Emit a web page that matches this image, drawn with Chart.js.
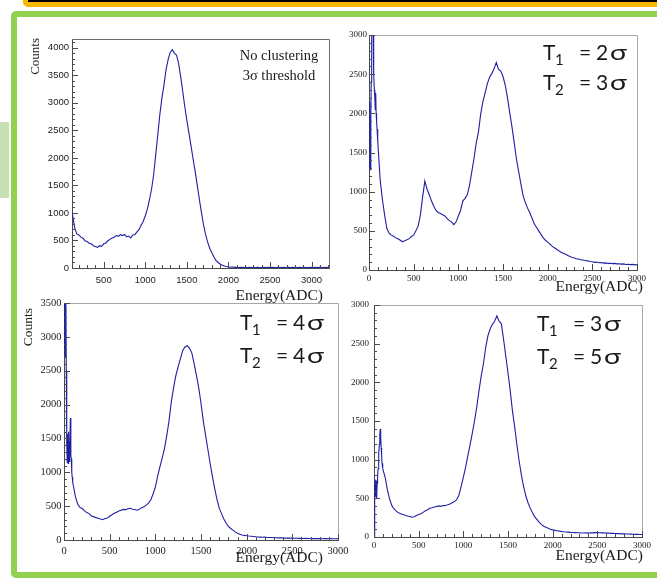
<!DOCTYPE html>
<html>
<head>
<meta charset="utf-8">
<title>Energy spectra vs clustering thresholds</title>
<script src="https://cdn.jsdelivr.net/npm/chart.js@4.4.1/dist/chart.umd.min.js"></script>
<style>
  html, body { margin: 0; padding: 0; background: #fff; }
  body { width: 657px; height: 578px; position: relative; overflow: hidden; }
  .topbar { position: absolute; left: 23px; top: -31px; width: 660px; height: 28px;
            background: #000; border: 5px solid #f9b800; border-radius: 5px; }
  .frame  { position: absolute; left: 11px; top: 11px; width: 680px; height: 555px;
            border: 6.5px solid #92d050; border-radius: 5px; }
  .tab    { position: absolute; left: 0; top: 122px; width: 9px; height: 76px; background: #c6e0b4; }
  canvas  { position: absolute; }
</style>
</head>
<body>
<div class="topbar"></div>
<div class="frame"></div>
<div class="tab"></div>
<canvas id="noCluster"></canvas>
<canvas id="t2t3"></canvas>
<canvas id="t4t4"></canvas>
<canvas id="t3t5"></canvas>
<script>
// ---------------------------------------------------------------
// Spectra (counts per bin). Bins below 100 ADC are 5 wide, the rest 25.
// ---------------------------------------------------------------
const lowEnergy = [0, 5, 10, 15, 20, 25, 30, 35, 40, 45, 50, 55, 60, 65, 70, 75, 80, 85, 90, 95];
const energy = [
  100, 125, 150, 175, 200, 225, 250, 275,
  300, 325, 350, 375, 400, 425, 450, 475,
  500, 525, 550, 575, 600, 625, 650, 675,
  700, 725, 750, 775, 800, 825, 850, 875,
  900, 925, 950, 975, 1000, 1025, 1050, 1075,
  1100, 1125, 1150, 1175, 1200, 1225, 1250, 1275,
  1300, 1325, 1350, 1375, 1400, 1425, 1450, 1475,
  1500, 1525, 1550, 1575, 1600, 1625, 1650, 1675,
  1700, 1725, 1750, 1775, 1800, 1825, 1850, 1875,
  1900, 1925, 1950, 1975, 2000, 2025, 2050, 2075,
  2100, 2125, 2150, 2175, 2200, 2225, 2250, 2275,
  2300, 2325, 2350, 2375, 2400, 2425, 2450, 2475,
  2500, 2525, 2550, 2575, 2600, 2625, 2650, 2675,
  2700, 2725, 2750, 2775, 2800, 2825, 2850, 2875,
  2900, 2925, 2950, 2975, 3000, 3025, 3050, 3075,
  3100, 3125, 3150, 3175, 3200
];

// no clustering, 3 sigma threshold (no bins below 100)
const noClusterCounts = [
  1080, 960, 730, 620, 600, 560, 540, 495,
  480, 450, 440, 405, 390, 375, 405, 395,
  440, 455, 495, 520, 545, 560, 590, 575,
  605, 590, 610, 565, 580, 545, 600, 610,
  655, 700, 775, 850, 950, 1075, 1240, 1430,
  1690, 2050, 2420, 2790, 3090, 3330, 3610, 3790,
  3920, 3965, 3900, 3870, 3720, 3480, 3210, 2930,
  2680, 2450, 2220, 1980, 1750, 1500, 1250, 1010,
  790, 610, 470, 360, 275, 200, 140, 100,
  72, 50, 38, 26, 20, 15, 18, 12,
  14, 10, 13, 9, 12, 10, 14, 9,
  11, 8, 12, 10, 9, 13, 8, 11,
  9, 12, 8, 10, 13, 9, 11, 8,
  10, 12, 9, 11, 8, 10, 12, 9,
  11, 8, 10, 9, 11, 10, 12, 9,
  11, 8, 10, 12, 9
];

// T1 = 2 sigma, T2 = 3 sigma
const t2t3Low = [1300, 2150, 1500, 1280, 1900, 2400, 2900, 3400, 3600, 3300,
                 3100, 2500, 2300, 2200, 2050, 2260, 2000, 1900, 1800, 1720];
const t2t3Counts = [
  1650, 1150, 900, 700, 530, 470, 445, 430,
  410, 398, 380, 360, 372, 385, 400, 428,
  445, 500, 560, 700, 930, 1135, 1030, 960,
  880, 815, 760, 735, 720, 705, 690, 655,
  630, 612, 580, 615, 690, 760, 880, 915,
  960, 1080, 1250, 1420, 1620, 1760, 1990, 2150,
  2260, 2380, 2460, 2510, 2570, 2650, 2560, 2540,
  2470, 2360, 2200, 2010, 1830, 1630, 1420, 1260,
  1100, 950, 860, 790, 730, 660, 590, 545,
  500, 455, 410, 380, 355, 330, 305, 285,
  265, 245, 228, 215, 200, 185, 172, 160,
  152, 140, 141, 128, 127, 118, 117, 108,
  106, 98, 101, 93, 95, 88, 91, 84,
  87, 81, 85, 78, 80, 75, 78, 71,
  74, 69, 72, 66, 68, 63, 66, 62,
  64, 60, 62, 58, 60
];

// T1 = 4 sigma, T2 = 4 sigma
const t4t4Low = [3600, 2750, 3600, 2700, 3600, 2500, 1400, 1150, 1560, 1130,
                 1600, 1160, 1450, 1300, 1800, 1250, 1200, 1000, 930, 860];
const t4t4Counts = [
  820, 640, 530, 480, 465, 430, 405, 390,
  355, 345, 330, 322, 310, 300, 318, 326,
  350, 372, 395, 410, 428, 440, 452, 448,
  462, 468, 455, 450, 440, 455, 478, 490,
  515, 545, 590, 680, 780, 940, 1080, 1210,
  1350, 1540, 1760, 2040, 2250, 2430, 2560, 2680,
  2800, 2850, 2870, 2830, 2760, 2600, 2430, 2250,
  2020, 1760, 1550, 1340, 1130, 940, 760, 600,
  470, 390, 310, 250, 200, 170, 145, 120,
  100, 85, 75, 68, 62, 58, 55, 52,
  48, 45, 43, 40, 42, 38, 36, 37,
  34, 33, 31, 32, 30, 28, 29, 27,
  27, 25, 26, 24, 25, 23, 24, 22,
  23, 21, 22, 20, 21, 19, 20, 21,
  19, 20, 18, 19, 20, 18, 19, 18,
  19, 18, 17, 18, 17
];

// T1 = 3 sigma, T2 = 5 sigma
const t3t5Low = [0, 380, 700, 720, 520, 730, 500, 690, 760, 880,
                 960, 1080, 1200, 1320, 1400, 1300, 1150, 1060, 950, 910];
const t3t5Counts = [
  885, 770, 610, 490, 405, 362, 335, 312,
  300, 292, 280, 272, 265, 256, 262, 278,
  290, 302, 318, 340, 352, 372, 378, 388,
  395, 402, 396, 406, 408, 416, 426, 442,
  458, 482, 540, 650, 770, 900, 1050, 1190,
  1340, 1500, 1680, 1890, 2080, 2240, 2450, 2600,
  2690, 2750, 2790, 2860, 2790, 2760, 2560, 2340,
  2120, 1890, 1630, 1420, 1190, 980, 800, 650,
  530, 440, 370, 310, 260, 225, 190, 160,
  140, 125, 112, 100, 92, 86, 80, 76,
  72, 68, 65, 63, 60, 58, 57, 55,
  54, 51, 52, 53, 50, 55, 53, 57,
  57, 54, 53, 55, 50, 51, 47, 48,
  46, 44, 45, 41, 42, 39, 38, 37,
  36, 34, 35, 32, 32, 30, 31, 30,
  29, 29, 28, 28, 27
];

// labelled axis values
const energyTicks = [0, 500, 1000, 1500, 2000, 2500, 3000];
const countTicks4000 = [0, 500, 1000, 1500, 2000, 2500, 3000, 3500, 4000];
const countTicks3500 = [0, 500, 1000, 1500, 2000, 2500, 3000, 3500];
const countTicks3000 = [0, 500, 1000, 1500, 2000, 2500, 3000];

// thresholds printed in the corner of each clustered spectrum
const t2t3Thresholds = ['2', '3'];
const t4t4Thresholds = ['4', '4'];
const t3t5Thresholds = ['3', '5'];

const LINE_COLOR = '#1f1fa3';
const AXIS_COLOR = '#4a4a4a';
const SERIF = "'Liberation Serif', 'Times New Roman', serif";
const NARROW = "'Liberation Sans Narrow', 'Liberation Sans', Arial, sans-serif";
const T_FONT = "Lato, 'Noto Sans', sans-serif";

function toPoints(xs, ys) {
  return xs.map((e, i) => ({ x: e, y: ys[i] }));
}

// "T1 = 2σ" style label, subscript drawn by hand
function drawThreshold(ctx, sub, value, left, base) {
  ctx.textAlign = 'left';
  ctx.textBaseline = 'alphabetic';
  ctx.font = '21px ' + T_FONT;
  ctx.fillText('T', left, base);
  ctx.font = '15px ' + T_FONT;
  ctx.fillText(sub, left + 12, base + 5);
  ctx.font = '21px ' + T_FONT;
  ctx.fillText('=', left + 36, base);
  ctx.fillText(value, left + 53, base);
  ctx.save();
  ctx.translate(left + 67, base);
  ctx.scale(1.35, 1);
  ctx.fillText('σ', 0, 0);
  ctx.restore();
}

// frame, inward ticks and the text that ROOT puts on the pad
function padDecor(cfg) {
  return {
    id: 'padDecor',
    afterDraw(chart) {
      const { ctx, chartArea: a, scales: { x, y } } = chart;
      ctx.save();
      ctx.lineWidth = 1;
      ctx.strokeStyle = cfg.frameColor;
      ctx.beginPath();
      ctx.moveTo(a.left, Math.round(a.top) + 0.5);
      ctx.lineTo(Math.round(a.right) + 0.5, Math.round(a.top) + 0.5);
      ctx.lineTo(Math.round(a.right) + 0.5, a.bottom);
      ctx.stroke();

      ctx.strokeStyle = AXIS_COLOR;
      ctx.beginPath();
      for (let v = Math.ceil(x.min / 100) * 100; v <= x.max; v += 100) {
        const px = Math.round(x.getPixelForValue(v)) + 0.5;
        const len = v % 500 === 0 ? 6 : 3;
        ctx.moveTo(px, a.bottom);
        ctx.lineTo(px, a.bottom - len);
      }
      for (let v = 0; v <= y.max; v += 100) {
        const py = Math.round(y.getPixelForValue(v)) + 0.5;
        const len = v % 500 === 0 ? 6 : 3;
        ctx.moveTo(a.left, py);
        ctx.lineTo(a.left + len, py);
      }
      ctx.stroke();

      // page coordinates -> canvas coordinates
      ctx.translate(-cfg.box[0], -cfg.box[1]);
      ctx.fillStyle = '#1a1a1a';
      cfg.notes.forEach(n => {
        ctx.save();
        ctx.font = n.font;
        ctx.textAlign = n.align || 'left';
        ctx.textBaseline = n.baseline || 'alphabetic';
        ctx.translate(n.x, n.y);
        if (n.rotate) ctx.rotate(n.rotate);
        ctx.fillText(n.text, 0, 0);
        ctx.restore();
      });
      if (cfg.thresholds) {
        const t = cfg.thresholds;
        drawThreshold(ctx, '1', t.values[0], t.left, t.base[0]);
        drawThreshold(ctx, '2', t.values[1], t.left, t.base[1]);
      }
      ctx.restore();
    }
  };
}

function histogramChart(canvasId, cfg) {
  const el = document.getElementById(canvasId);
  const [bx, by, bw, bh] = cfg.box;
  const [pl, pt, pr, pb] = cfg.plot;
  el.width = bw;
  el.height = bh;
  el.style.left = bx + 'px';
  el.style.top = by + 'px';

  const tickFont = { family: cfg.tickFamily, size: cfg.tickSize };
  const plain = v => String(v);

  return new Chart(el.getContext('2d'), {
    type: 'line',
    data: {
      datasets: [{
        data: cfg.points,
        borderColor: LINE_COLOR,
        borderWidth: 1.1,
        pointRadius: 0,
        tension: 0,
        fill: false
      }]
    },
    options: {
      responsive: false,
      animation: false,
      events: [],
      layout: { padding: { left: 0, top: pt - by, right: bx + bw - pr, bottom: 0 } },
      plugins: { legend: { display: false }, tooltip: { enabled: false } },
      scales: {
        x: {
          type: 'linear',
          min: cfg.xMin,
          max: cfg.xMax,
          ticks: { autoSkip: false, maxRotation: 0, callback: plain,
                   font: tickFont, color: '#222', padding: cfg.xPad },
          grid: { display: false, drawTicks: false },
          border: { display: true, color: AXIS_COLOR, width: 1 },
          afterBuildTicks: s => {
            s.ticks = energyTicks.filter(v => v >= cfg.xMin && v <= cfg.xMax).map(v => ({ value: v }));
          },
          afterFit: s => { s.height = by + bh - pb; s.paddingLeft = 0; s.paddingRight = 0; }
        },
        y: {
          type: 'linear',
          min: 0,
          max: cfg.yMax,
          ticks: { autoSkip: false, callback: plain,
                   font: tickFont, color: '#222', padding: cfg.yPad },
          grid: { display: false, drawTicks: false },
          border: { display: true, color: AXIS_COLOR, width: 1 },
          afterBuildTicks: s => { s.ticks = cfg.yTicks.map(v => ({ value: v })); },
          afterFit: s => { s.width = pl - bx; s.paddingTop = 0; s.paddingBottom = 0; }
        }
      }
    },
    plugins: [padDecor(cfg)]
  });
}

histogramChart('noCluster', {
  box: [20, 28, 315, 277], plot: [72, 39, 329, 268],
  xMin: 118, xMax: 3210, yMax: 4160, yTicks: countTicks4000,
  points: toPoints(energy, noClusterCounts),
  tickFamily: NARROW, tickSize: 9.5, xPad: 7, yPad: 3,
  frameColor: '#6a6a6a',
  notes: [
    { text: 'Counts', x: 36, y: 38, font: '13px ' + SERIF, align: 'right', baseline: 'middle', rotate: -Math.PI / 2 },
    { text: 'Energy(ADC)', x: 323, y: 300, font: '15.5px ' + SERIF, align: 'right' },
    { text: 'No clustering', x: 279, y: 60, font: '14.5px ' + SERIF, align: 'center' },
    { text: '3σ threshold', x: 279, y: 80, font: '14.5px ' + SERIF, align: 'center' }
  ]
});

histogramChart('t2t3', {
  box: [330, 22, 327, 280], plot: [369, 35, 637, 270],
  xMin: 0, xMax: 3000, yMax: 3000, yTicks: countTicks3000,
  points: toPoints(lowEnergy.concat(energy), t2t3Low.concat(t2t3Counts)),
  tickFamily: SERIF, tickSize: 9, xPad: 3, yPad: 2,
  frameColor: '#a8a8a8',
  notes: [
    { text: 'Energy(ADC)', x: 643, y: 291, font: '15.5px ' + SERIF, align: 'right' }
  ],
  thresholds: { values: t2t3Thresholds, left: 543, base: [60, 90] }
});

histogramChart('t4t4', {
  box: [18, 292, 337, 280], plot: [64, 303, 338, 540],
  xMin: 0, xMax: 3000, yMax: 3500, yTicks: countTicks3500,
  points: toPoints(lowEnergy.concat(energy), t4t4Low.concat(t4t4Counts)),
  tickFamily: SERIF, tickSize: 10.5, xPad: 5, yPad: 2.5,
  frameColor: '#a8a8a8',
  notes: [
    { text: 'Counts', x: 28, y: 308, font: '13.5px ' + SERIF, align: 'right', baseline: 'middle', rotate: -Math.PI / 2 },
    { text: 'Energy(ADC)', x: 323, y: 562, font: '15.5px ' + SERIF, align: 'right' }
  ],
  thresholds: { values: t4t4Thresholds, left: 240, base: [330, 363] }
});

histogramChart('t3t5', {
  box: [340, 292, 317, 280], plot: [374, 305, 642, 537],
  xMin: 0, xMax: 3000, yMax: 3000, yTicks: countTicks3000,
  points: toPoints(lowEnergy.concat(energy), t3t5Low.concat(t3t5Counts)),
  tickFamily: SERIF, tickSize: 9, xPad: 3, yPad: 5,
  frameColor: '#a8a8a8',
  notes: [
    { text: 'Energy(ADC)', x: 643, y: 560, font: '15.5px ' + SERIF, align: 'right' }
  ],
  thresholds: { values: t3t5Thresholds, left: 537, base: [331, 364] }
});
</script>
</body>
</html>
